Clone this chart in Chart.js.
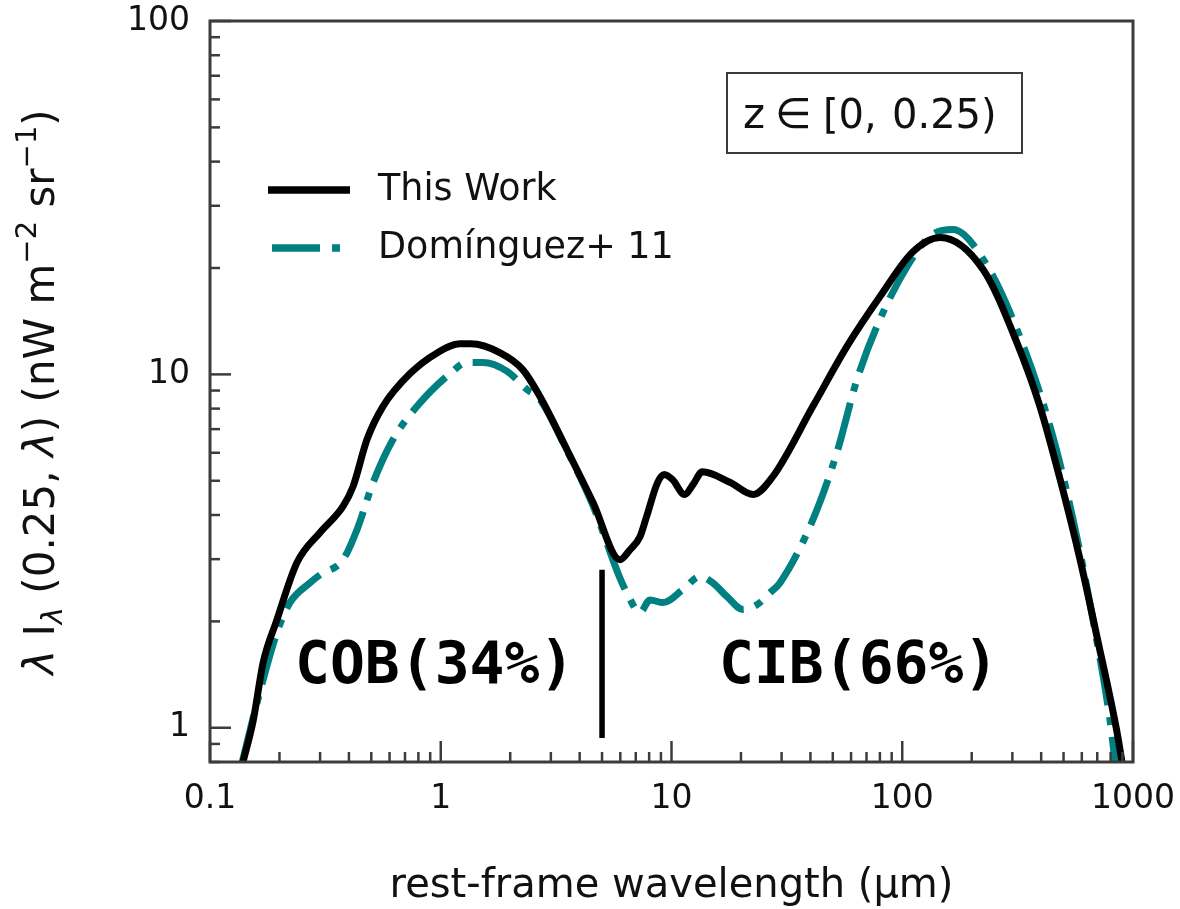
<!DOCTYPE html>
<html lang="en">
<head>
    <meta charset="UTF-8">
    <title>EBL spectrum z in [0, 0.25)</title>
    <style>
        body { margin: 0; background: #fff; }
        canvas { display: block; }
    </style>
</head>
<body>
    <canvas id="eblChart" width="1180" height="909"></canvas>
    <script src="https://cdn.jsdelivr.net/npm/chart.js"></script>
    <script>
        // rest-frame wavelength (micron) and lambda*I_lambda (nW m^-2 sr^-1)
        const thisWorkWave = [0.139, 0.154, 0.170, 0.195, 0.238, 0.300, 0.377, 0.417, 0.479, 0.562,
            0.736, 0.964, 1.21, 1.35, 1.81, 2.27, 2.69, 3.52, 4.57, 5.98,
            6.61, 7.3, 7.8, 8.7, 9.3, 10.1, 11.4, 12.4, 13.6, 17.9,
            22.6, 27.5, 41, 57.6, 80.1, 111, 146, 224, 314, 395,
            483, 589, 698, 853, 896];
        const thisWorkFlux = [0.80, 1.05, 1.53, 2.02, 2.93, 3.57, 4.23, 4.82, 6.54, 8.12,
            10.05, 11.5, 12.2, 12.2, 11.5, 10.3, 8.66, 6.13, 4.34, 2.99,
            3.19, 3.47, 3.96, 4.94, 5.21, 5.04, 4.57, 4.88, 5.30, 4.95,
            4.57, 5.14, 8.12, 12.0, 16.6, 22.2, 24.4, 19.8, 12.3, 8.12,
            5.05, 3.0, 1.81, 0.97, 0.80];

        const domWave = [0.138, 0.160, 0.195, 0.222, 0.271, 0.300, 0.377, 0.434, 0.509, 0.621,
            0.789, 1.097, 1.30, 1.525, 1.94, 2.36, 2.69, 3.52, 4.57, 5.98,
            6.4, 7.3, 8.07, 9.19, 11.2, 13.3, 15.1, 17.4, 20.4, 23.5,
            26.7, 29.5, 41, 52.1, 63.7, 80, 105, 132, 166, 224,
            314, 437, 550, 671, 795, 836];
        const domFlux = [0.80, 1.18, 1.86, 2.26, 2.57, 2.71, 2.99, 3.64, 4.94, 6.54,
            8.12, 10.05, 10.8, 10.8, 10.2, 9.07, 8.5, 6.1, 4.25, 2.65,
            2.41, 2.12, 2.30, 2.26, 2.46, 2.68, 2.57, 2.35, 2.16, 2.23,
            2.41, 2.57, 3.88, 6.01, 9.68, 14.3, 20.2, 24.6, 25.7, 21.2,
            13.4, 7.12, 3.88, 2.02, 1.05, 0.80];

        // COB / CIB split at 5 micron
        const splitWave = [5, 5];
        const splitFlux = [0.935, 2.8];

        const seriesNames = ['This Work', 'Domínguez+ 11'];
        const xRange = [0.1, 1000];
        const yRange = [0.8, 100];

        const TEAL = '#008080';
        const AXIS = '#3c3c3c';
        const FONT = '"DejaVu Sans", sans-serif';

        const toPoints = (xs, ys) => xs.map((x, i) => ({ x: x, y: ys[i] }));
        const isDecade = v => Math.abs(Math.log10(v) - Math.round(Math.log10(v))) < 1e-6;

        // frame, inward ticks, legend and annotations
        const decorPlugin = {
            id: 'decor',
            afterDraw(chart) {
                const ctx = chart.ctx;
                const a = chart.chartArea;
                const xs = chart.scales.x, ys = chart.scales.y;
                ctx.save();

                // ticks
                ctx.strokeStyle = AXIS;
                ctx.lineWidth = 2.5;
                for (let d = -1; d <= 3; d++) {
                    for (let m = 1; m <= 9; m++) {
                        const v = m * Math.pow(10, d);
                        if (v < xRange[0] || v > xRange[1]) continue;
                        const px = xs.getPixelForValue(v);
                        const len = m === 1 ? 21 : 10;
                        ctx.beginPath();
                        ctx.moveTo(px, a.bottom);
                        ctx.lineTo(px, a.bottom - len);
                        ctx.stroke();
                    }
                }
                for (let d = -1; d <= 2; d++) {
                    for (let m = 1; m <= 9; m++) {
                        const v = m * Math.pow(10, d);
                        if (v < yRange[0] || v > yRange[1]) continue;
                        const py = ys.getPixelForValue(v);
                        const len = m === 1 ? 21 : 10;
                        ctx.beginPath();
                        ctx.moveTo(a.left, py);
                        ctx.lineTo(a.left + len, py);
                        ctx.stroke();
                    }
                }

                // frame
                ctx.lineWidth = 3;
                ctx.strokeRect(a.left, a.top, a.right - a.left, a.bottom - a.top);

                // legend
                ctx.lineWidth = 7.5;
                ctx.lineCap = 'butt';
                ctx.strokeStyle = '#000';
                ctx.beginPath();
                ctx.moveTo(268, 190);
                ctx.lineTo(350, 190);
                ctx.stroke();
                ctx.strokeStyle = TEAL;
                ctx.setLineDash([48, 12, 8, 12]);
                ctx.beginPath();
                ctx.moveTo(272, 248);
                ctx.lineTo(352, 248);
                ctx.stroke();
                ctx.setLineDash([]);

                ctx.fillStyle = '#111';
                ctx.font = '36.5px ' + FONT;
                ctx.textBaseline = 'middle';
                ctx.textAlign = 'left';
                ctx.fillText(seriesNames[0], 378, 191);
                ctx.fillText(seriesNames[1], 378, 249);

                // redshift box
                ctx.strokeStyle = AXIS;
                ctx.lineWidth = 2;
                ctx.strokeRect(727, 73, 295, 80);
                ctx.textBaseline = 'alphabetic';
                ctx.font = '42px ' + FONT;
                ctx.fillText('z', 743, 128);
                ctx.fillText('∈', 775, 128);
                ctx.font = '40px ' + FONT;
                ctx.fillText('[0,', 823, 128);
                ctx.fillText('0.25)', 892, 128);

                // component labels
                ctx.fillStyle = '#000';
                ctx.font = 'bold 58px "DejaVu Sans Mono", monospace';
                ctx.fillText('COB(34%)', 295, 683);
                ctx.fillText('CIB(66%)', 719, 683);

                // x title
                ctx.fillStyle = '#111';
                ctx.font = '40px ' + FONT;
                ctx.textAlign = 'center';
                ctx.fillText('rest-frame wavelength (μm)', (a.left + a.right) / 2, 897);

                // y title with sub/superscripts
                const big = '42px ' + FONT, bigIt = 'italic 42px ' + FONT;
                const small = '29px ' + FONT, smallIt = 'italic 29px ' + FONT;
                const parts = [
                    { t: 'λ', f: bigIt, dy: 0 },
                    { t: ' I', f: big, dy: 0 },
                    { t: 'λ', f: smallIt, dy: 8 },
                    { t: ' (0.25, ', f: big, dy: 0 },
                    { t: 'λ', f: bigIt, dy: 0 },
                    { t: ') (nW m', f: big, dy: 0 },
                    { t: '−2', f: small, dy: -18 },
                    { t: ' sr', f: big, dy: 0 },
                    { t: '−1', f: small, dy: -18 },
                    { t: ')', f: big, dy: 0 }
                ];
                let total = 0;
                parts.forEach(p => { ctx.font = p.f; p.w = ctx.measureText(p.t).width; total += p.w; });
                ctx.translate(54, 392);
                ctx.rotate(-Math.PI / 2);
                ctx.textAlign = 'left';
                let cx = -total / 2;
                parts.forEach(p => {
                    ctx.font = p.f;
                    ctx.fillText(p.t, cx, p.dy);
                    cx += p.w;
                });
                ctx.restore();
            }
        };

        const ctx = document.getElementById('eblChart').getContext('2d');
        new Chart(ctx, {
            type: 'line',
            data: {
                datasets: [
                    {
                        label: seriesNames[0],
                        data: toPoints(thisWorkWave, thisWorkFlux),
                        borderColor: '#000',
                        borderWidth: 7,
                        pointRadius: 0,
                        cubicInterpolationMode: 'monotone',
                        borderJoinStyle: 'round',
                        clip: 0
                    },
                    {
                        label: seriesNames[1],
                        data: toPoints(domWave, domFlux),
                        borderColor: TEAL,
                        borderWidth: 7,
                        borderDash: [48, 12, 8, 12],
                        borderCapStyle: 'butt',
                        pointRadius: 0,
                        cubicInterpolationMode: 'monotone',
                        borderJoinStyle: 'round',
                        clip: 0
                    },
                    {
                        label: 'split',
                        data: toPoints(splitWave, splitFlux),
                        borderColor: '#000',
                        borderWidth: 5.5,
                        borderCapStyle: 'butt',
                        pointRadius: 0
                    }
                ]
            },
            options: {
                responsive: false,
                animation: false,
                parsing: false,
                layout: { padding: { top: 21, right: 47, bottom: 0, left: 0 } },
                plugins: { legend: { display: false }, tooltip: { enabled: false } },
                scales: {
                    x: {
                        type: 'logarithmic',
                        min: xRange[0],
                        max: xRange[1],
                        grid: { display: false, drawTicks: false },
                        border: { display: false },
                        afterFit: s => {
                            s.height = 147;
                            s.paddingLeft = 0;
                            s.paddingRight = 0;
                        },
                        ticks: {
                            autoSkip: false,
                            maxRotation: 0,
                            padding: 18,
                            color: '#111',
                            font: { family: 'DejaVu Sans', size: 33 },
                            callback: v => isDecade(v) ? String(Number(v.toPrecision(1))) : ''
                        }
                    },
                    y: {
                        type: 'logarithmic',
                        min: yRange[0],
                        max: yRange[1],
                        grid: { display: false, drawTicks: false },
                        border: { display: false },
                        afterFit: s => {
                            s.width = 210;
                            s.paddingTop = 0;
                            s.paddingBottom = 0;
                        },
                        ticks: {
                            autoSkip: false,
                            padding: 20,
                            color: '#111',
                            font: { family: 'DejaVu Sans', size: 33 },
                            callback: v => isDecade(v) ? String(Number(v.toPrecision(1))) : ''
                        }
                    }
                }
            },
            plugins: [decorPlugin]
        });
    </script>
</body>
</html>
